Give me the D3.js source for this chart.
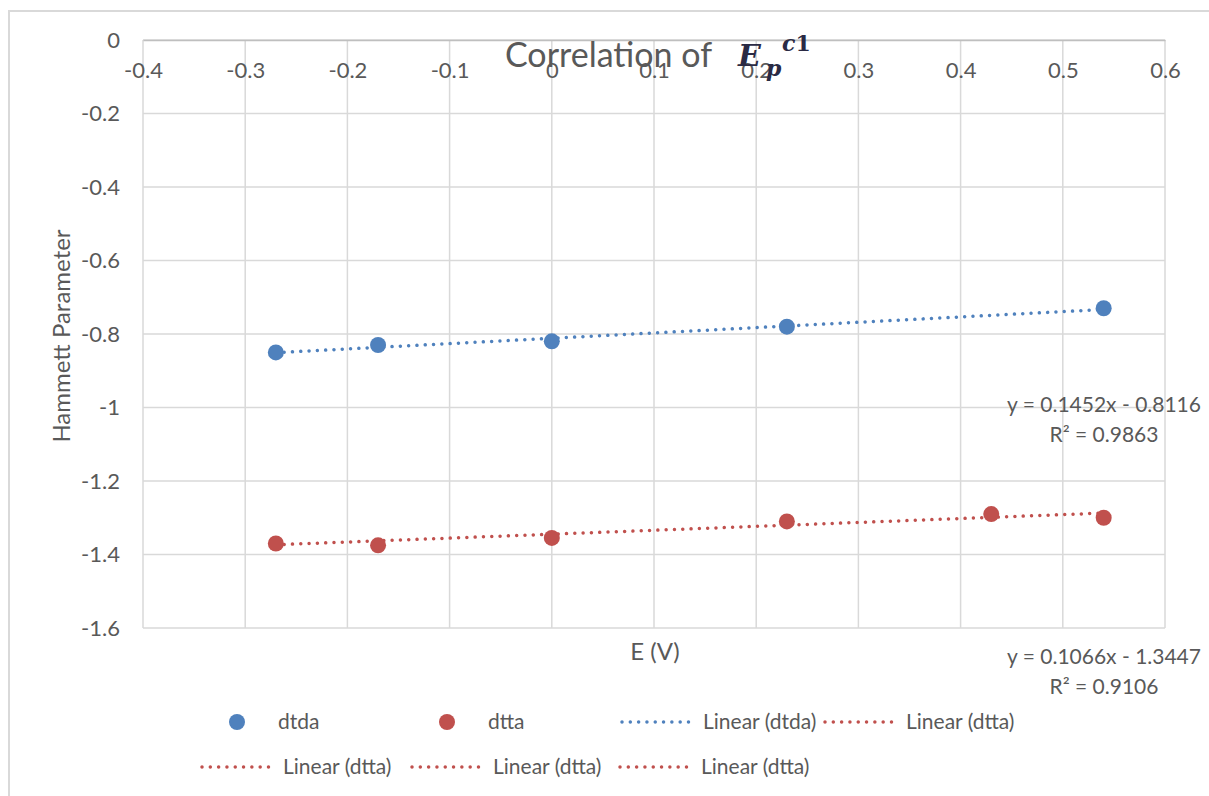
<!DOCTYPE html>
<html>
<head>
<meta charset="utf-8">
<script src="https://cdn.jsdelivr.net/npm/d3@7"></script>
<style>
  body { margin: 0; background: #fff; }
  text { font-family: Lato, "Open Sans", sans-serif; fill: #595959; }
</style>
</head>
<body>
<svg id="chart"></svg>
<script>
// data
const dtdaX = [-0.27, -0.17, 0, 0.23, 0.54];
const dtdaY = [-0.85, -0.83, -0.82, -0.78, -0.73];
const dttaX = [-0.27, -0.17, 0, 0.23, 0.43, 0.54];
const dttaY = [-1.37, -1.375, -1.355, -1.31, -1.29, -1.30];
// trendline coefficients as printed on the chart
const dtdaFit = { slope: 0.1452, intercept: -0.8116, r2: 0.9863 };
const dttaFit = { slope: 0.1066, intercept: -1.3447, r2: 0.9106 };
const xTicks = [-0.4, -0.3, -0.2, -0.1, 0, 0.1, 0.2, 0.3, 0.4, 0.5, 0.6];
const yTicks = [0, -0.2, -0.4, -0.6, -0.8, -1, -1.2, -1.4, -1.6];

const width = 1209, height = 796;
const blue = "#4f81bd", red = "#c0504d", grid = "#d9d9d9";

const svg = d3.select("#chart").attr("width", width).attr("height", height);

// outer chart frame (only top + left visible in the crop)
svg.append("path")
  .attr("d", `M9,${height} V11 H${width}`)
  .attr("fill", "none").attr("stroke", grid).attr("stroke-width", 2);

const x = d3.scaleLinear().domain([-0.4, 0.6]).range([143, 1165]);
const y = d3.scaleLinear().domain([-1.6, 0]).range([628, 40]);

const g = svg.append("g");

// gridlines
g.selectAll(".vgrid").data(xTicks).enter().append("line")
  .attr("x1", d => x(d)).attr("x2", d => x(d))
  .attr("y1", y(0)).attr("y2", y(-1.6))
  .attr("stroke", grid).attr("stroke-width", 1.5);
g.selectAll(".hgrid").data(yTicks).enter().append("line")
  .attr("x1", x(-0.4)).attr("x2", x(0.6))
  .attr("y1", d => y(d)).attr("y2", d => y(d))
  .attr("stroke", grid).attr("stroke-width", 1.5);

// x axis sits at y = 0 (top of plot)
const fmt = d => String(d);
const xAxis = g.append("g")
  .attr("transform", `translate(0,${y(0)})`)
  .call(d3.axisBottom(x).tickValues(xTicks).tickSize(0).tickPadding(22).tickFormat(fmt));
xAxis.select(".domain").attr("stroke", "#bfbfbf").attr("stroke-width", 1.5);
xAxis.selectAll("text").style("font-size", "22px").attr("fill", "#595959");

const yAxis = g.append("g")
  .attr("transform", `translate(120,0)`)
  .call(d3.axisLeft(y).tickValues(yTicks).tickSize(0).tickPadding(0).tickFormat(fmt));
yAxis.select(".domain").remove();
yAxis.selectAll("text").style("font-size", "22px").attr("fill", "#595959");

// trendlines
function trend(fit, xs, color) {
  const x0 = d3.min(xs), x1 = d3.max(xs);
  g.append("line")
    .attr("x1", x(x0)).attr("y1", y(fit.slope * x0 + fit.intercept))
    .attr("x2", x(x1)).attr("y2", y(fit.slope * x1 + fit.intercept))
    .attr("stroke", color).attr("stroke-width", 3.5)
    .attr("stroke-linecap", "round").attr("stroke-dasharray", "0.01 8.3");
}
trend(dtdaFit, dtdaX, blue);
trend(dttaFit, dttaX, red);

// points
g.selectAll(".p1").data(dtdaX).enter().append("circle")
  .attr("cx", d => x(d)).attr("cy", (d, i) => y(dtdaY[i]))
  .attr("r", 8).attr("fill", blue);
g.selectAll(".p2").data(dttaX).enter().append("circle")
  .attr("cx", d => x(d)).attr("cy", (d, i) => y(dttaY[i]))
  .attr("r", 8).attr("fill", red);

// equation labels
function eqLabel(fit, cy) {
  const t = svg.append("text").attr("x", 1104).attr("text-anchor", "middle")
    .style("font-size", "21px");
  t.append("tspan").attr("x", 1104).attr("y", cy)
    .text(`y = ${fit.slope}x - ${Math.abs(fit.intercept)}`);
  t.append("tspan").attr("x", 1104).attr("y", cy + 30)
    .text(`R² = ${fit.r2}`);
}
eqLabel(dtdaFit, 412);
eqLabel(dttaFit, 664);

// axis titles
svg.append("text").attr("x", 655).attr("y", 660).attr("text-anchor", "middle")
  .style("font-size", "24px").text("E (V)");
svg.append("text").attr("transform", "translate(70,336) rotate(-90)")
  .attr("text-anchor", "middle").style("font-size", "24px").text("Hammett Parameter");

// title
const serif = "'DejaVu Serif', serif";
const title = svg.append("text").attr("x", 505).attr("y", 67).style("font-size", "34px");
title.append("tspan").text("Correlation of ");
title.append("tspan").attr("x", 738).attr("y", 66)
  .style("font-family", serif).style("font-weight", "bold")
  .style("font-style", "italic").style("fill", "#2a2a44").style("font-size", "30px").text("E");
title.append("tspan").attr("x", 782).attr("y", 51)
  .style("font-family", serif).style("font-weight", "bold")
  .style("font-style", "italic").style("fill", "#2a2a44").style("font-size", "22px").text("c");
title.append("tspan").attr("y", 51)
  .style("font-family", serif).style("font-weight", "bold")
  .style("fill", "#2a2a44").style("font-size", "22px").text("1");
title.append("tspan").attr("x", 766).attr("y", 76)
  .style("font-family", serif).style("font-weight", "bold")
  .style("font-style", "italic").style("fill", "#2a2a44").style("font-size", "22px").text("p");

// legend
const legendItems = [
  { type: "dot", color: blue, label: "dtda", x: 237, y: 722 },
  { type: "dot", color: red, label: "dtta", x: 447, y: 722 },
  { type: "line", color: blue, label: "Linear (dtda)", x: 622, y: 722 },
  { type: "line", color: red, label: "Linear (dtta)", x: 825, y: 722 },
  { type: "line", color: red, label: "Linear (dtta)", x: 202, y: 767 },
  { type: "line", color: red, label: "Linear (dtta)", x: 412, y: 767 },
  { type: "line", color: red, label: "Linear (dtta)", x: 620, y: 767 }
];
const leg = svg.append("g");
legendItems.forEach(d => {
  if (d.type === "dot") {
    leg.append("circle").attr("cx", d.x).attr("cy", d.y).attr("r", 8).attr("fill", d.color);
    leg.append("text").attr("x", d.x + 41).attr("y", d.y + 7).style("font-size", "21px").text(d.label);
  } else {
    leg.append("line").attr("x1", d.x).attr("x2", d.x + 74).attr("y1", d.y).attr("y2", d.y)
      .attr("stroke", d.color).attr("stroke-width", 3.5)
      .attr("stroke-linecap", "round").attr("stroke-dasharray", "0.01 8.3");
    leg.append("text").attr("x", d.x + 81).attr("y", d.y + 7).style("font-size", "21px").text(d.label);
  }
});
</script>
</body>
</html>
